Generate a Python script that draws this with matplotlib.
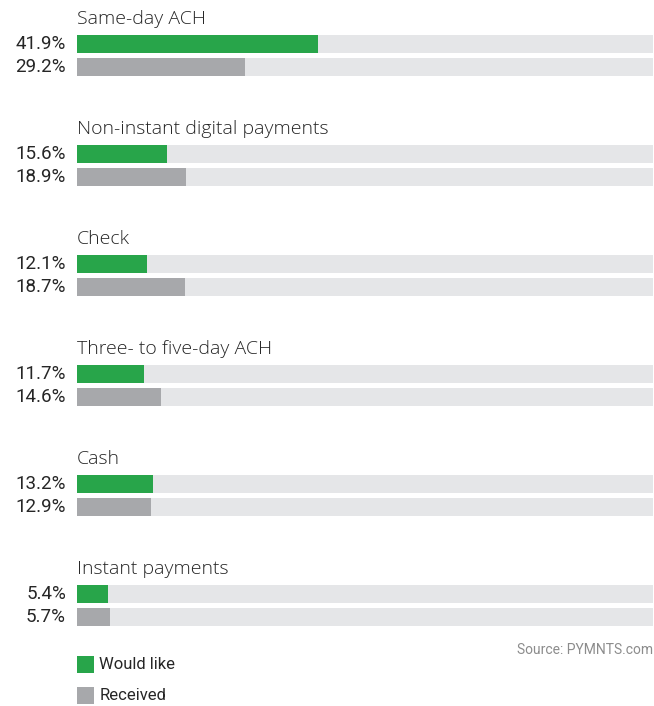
import numpy as np
import matplotlib.pyplot as plt

plt.rcParams['font.family'] = ['Roboto', 'DejaVu Sans']

categories = ['Same-day ACH', 'Non-instant digital payments', 'Check',
              'Three- to five-day ACH', 'Cash', 'Instant payments']
would_like = [41.9, 15.6, 12.1, 11.7, 13.2, 5.4]
received = [29.2, 18.9, 18.7, 14.6, 12.9, 5.7]
series_names = ['Would like', 'Received']

green = '#28a54a'
grey = '#a7a8ab'
track = '#e5e6e8'
text_col = '#262626'

W, H = 654, 706
fig = plt.figure(figsize=(W / 100, H / 100), dpi=100)
# x in percent over the track, y in pixel rows from the top
ax = fig.add_axes([77 / W, 0, 576 / W, 1])
ax.set_xlim(0, 100)
ax.set_ylim(H, 0)
ax.axis('off')

step = 110
bar_h = 18
n = len(categories)
idx = np.arange(n)
y_title = 18.5 + step * idx
y_green = 44 + step * idx
y_grey = 67 + step * idx

ax.barh(y_green, [100] * n, height=bar_h, color=track, zorder=1)
ax.barh(y_grey, [100] * n, height=bar_h, color=track, zorder=1)
ax.barh(y_green, would_like, height=bar_h, color=green, zorder=2)
ax.barh(y_grey, received, height=bar_h, color=grey, zorder=2)

for i in range(n):
    ax.text(0, y_title[i], categories[i], ha='left', va='center',
            fontsize=14, color=text_col, family=['Open Sans', 'DejaVu Sans'],
            fontweight='light')
    ax.text(-1.9, y_green[i], f'{would_like[i]:.1f}%', ha='right',
            va='center', fontsize=13.5, color=text_col)
    ax.text(-1.9, y_grey[i], f'{received[i]:.1f}%', ha='right',
            va='center', fontsize=13.5, color=text_col)

ax.text(100, 650, 'Source: PYMNTS.com', ha='right', va='center',
        fontsize=10, color='#8c8c8c')

# legend swatches
for k, (name, col) in enumerate(zip(series_names, [green, grey])):
    yc = 664.5 + 31 * k
    ax.barh(yc, 3.0, height=17, color=col)
    ax.text(3.9, yc, name, ha='left', va='center', fontsize=12,
            color=text_col)

fig.savefig('out.png', dpi=100, facecolor='white')
